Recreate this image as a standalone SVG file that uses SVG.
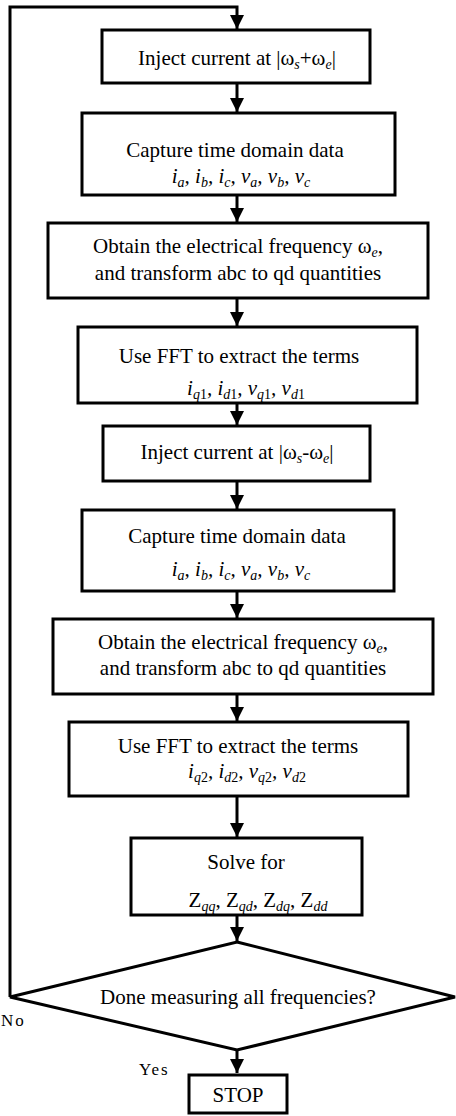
<svg xmlns="http://www.w3.org/2000/svg" width="456" height="1116" viewBox="0 0 456 1116">
<style>
.box{fill:#fff;stroke:#000;stroke-width:3}
.c{fill:none;stroke:#000;stroke-width:3}
text{font-family:"Liberation Serif","Times New Roman",serif;font-size:21px;fill:#000;text-anchor:middle}
.it{font-style:italic}
.up{font-style:normal}
.s{font-size:14px;font-style:italic}
.lbl{font-size:17px;letter-spacing:2px;text-anchor:start}
</style>
<defs>
<marker id="ah" markerUnits="userSpaceOnUse" markerWidth="16" markerHeight="16" refX="14" refY="8" orient="auto">
<path d="M0,1 L14,8 L0,15 Z" fill="#000"/>
</marker>
</defs>
<rect width="456" height="1116" fill="#fff"/>
<g id="connectors">
<path class="c" d="M10,997 V7 H237 V29" marker-end="url(#ah)"/>
<path class="c" d="M237,83 V112" marker-end="url(#ah)"/>
<path class="c" d="M237,195 V222" marker-end="url(#ah)"/>
<path class="c" d="M237,298 V326" marker-end="url(#ah)"/>
<path class="c" d="M237,403 V425" marker-end="url(#ah)"/>
<path class="c" d="M237,481 V509" marker-end="url(#ah)"/>
<path class="c" d="M237,591 V618" marker-end="url(#ah)"/>
<path class="c" d="M237,694 V721" marker-end="url(#ah)"/>
<path class="c" d="M237,796 V837" marker-end="url(#ah)"/>
<path class="c" d="M237,915 V941" marker-end="url(#ah)"/>
<path class="c" d="M237,1050 V1073" marker-end="url(#ah)"/>
</g>
<g id="n1">
<rect class="box" x="102" y="30" width="268" height="53"/>
<text x="237" y="65">Inject current at |ω<tspan class="s" dy="4">s</tspan><tspan dy="-4">+ω</tspan><tspan class="s" dy="4">e</tspan><tspan dy="-4">|</tspan></text>
</g>
<g id="n2">
<rect class="box" x="82" y="113" width="313" height="82"/>
<text x="235" y="157">Capture time domain data</text>
<text class="it" x="241" y="183">i<tspan class="s" dy="4">a</tspan><tspan dy="-4">, i</tspan><tspan class="s" dy="4">b</tspan><tspan dy="-4">, i</tspan><tspan class="s" dy="4">c</tspan><tspan dy="-4">, v</tspan><tspan class="s" dy="4">a</tspan><tspan dy="-4">, v</tspan><tspan class="s" dy="4">b</tspan><tspan dy="-4">, v</tspan><tspan class="s" dy="4">c</tspan></text>
</g>
<g id="n3">
<rect class="box" x="48" y="223" width="380" height="75"/>
<text x="238" y="253">Obtain the electrical frequency ω<tspan class="s" dy="4">e</tspan><tspan dy="-4">,</tspan></text>
<text x="238" y="280">and transform abc to qd quantities</text>
</g>
<g id="n4">
<rect class="box" x="78" y="327" width="339" height="76"/>
<text x="239" y="363">Use  FFT to extract the terms</text>
<text class="it" x="246" y="395">i<tspan class="s" dy="4">q<tspan class="up">1</tspan></tspan><tspan dy="-4">, i</tspan><tspan class="s" dy="4">d<tspan class="up">1</tspan></tspan><tspan dy="-4">, v</tspan><tspan class="s" dy="4">q<tspan class="up">1</tspan></tspan><tspan dy="-4">, v</tspan><tspan class="s" dy="4">d<tspan class="up">1</tspan></tspan></text>
</g>
<g id="n5">
<rect class="box" x="103" y="426" width="267" height="55"/>
<text x="237" y="459">Inject current at |ω<tspan class="s" dy="4">s</tspan><tspan dy="-4">-ω</tspan><tspan class="s" dy="4">e</tspan><tspan dy="-4">|</tspan></text>
</g>
<g id="n6">
<rect class="box" x="82" y="510" width="312" height="81"/>
<text x="237" y="543">Capture time domain data</text>
<text class="it" x="241" y="576">i<tspan class="s" dy="4">a</tspan><tspan dy="-4">, i</tspan><tspan class="s" dy="4">b</tspan><tspan dy="-4">, i</tspan><tspan class="s" dy="4">c</tspan><tspan dy="-4">, v</tspan><tspan class="s" dy="4">a</tspan><tspan dy="-4">, v</tspan><tspan class="s" dy="4">b</tspan><tspan dy="-4">, v</tspan><tspan class="s" dy="4">c</tspan></text>
</g>
<g id="n7">
<rect class="box" x="53" y="619" width="380" height="75"/>
<text x="243" y="649">Obtain the electrical frequency ω<tspan class="s" dy="4">e</tspan><tspan dy="-4">,</tspan></text>
<text x="243" y="675">and transform abc to qd quantities</text>
</g>
<g id="n8">
<rect class="box" x="69" y="722" width="339" height="74"/>
<text x="238" y="753">Use  FFT to extract the terms</text>
<text class="it" x="247" y="778">i<tspan class="s" dy="4">q<tspan class="up">2</tspan></tspan><tspan dy="-4">, i</tspan><tspan class="s" dy="4">d<tspan class="up">2</tspan></tspan><tspan dy="-4">, v</tspan><tspan class="s" dy="4">q<tspan class="up">2</tspan></tspan><tspan dy="-4">, v</tspan><tspan class="s" dy="4">d<tspan class="up">2</tspan></tspan></text>
</g>
<g id="n9">
<rect class="box" x="131" y="838" width="231" height="77"/>
<text x="246" y="869">Solve for</text>
<text x="258" y="907">Z<tspan class="s" dy="4">qq</tspan><tspan dy="-4">, Z</tspan><tspan class="s" dy="4">qd</tspan><tspan dy="-4">, Z</tspan><tspan class="s" dy="4">dq</tspan><tspan dy="-4">, Z</tspan><tspan class="s" dy="4">dd</tspan></text>
</g>
<g id="n10">
<polygon class="box" points="237,942 455,997 237,1050 10,997"/>
<text x="238" y="1004">Done measuring all frequencies?</text>
</g>
<g id="n11">
<rect class="box" x="189" y="1075" width="98" height="38"/>
<text x="238" y="1102">STOP</text>
</g>
<text class="lbl" x="1" y="1026">No</text>
<text class="lbl" x="139" y="1075">Yes</text>
</svg>
